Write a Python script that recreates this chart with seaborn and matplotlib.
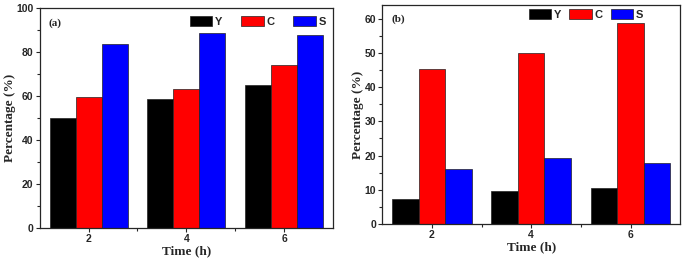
import pandas as pd
import matplotlib.pyplot as plt
import seaborn as sns
from matplotlib.ticker import AutoMinorLocator, MultipleLocator

# data
times = ["2", "4", "6"]
series = ["Y", "C", "S"]
a_Y = [50.0, 58.7, 65.0]
a_C = [59.7, 63.2, 74.2]
a_S = [83.8, 88.6, 87.6]
b_Y = [7.2, 9.7, 10.5]
b_C = [45.3, 50.0, 58.7]
b_S = [16.0, 19.4, 17.9]

colors = ["#000000", "#ff0000", "#0000ff"]


def long_df(y, c, s):
    rows = []
    for name, vals in zip(series, [y, c, s]):
        for t, v in zip(times, vals):
            rows.append({"time": t, "series": name, "value": v})
    return pd.DataFrame(rows)


sns.set_style("ticks")
plt.rcParams["font.family"] = ["Liberation Sans", "DejaVu Sans"]

fig = plt.figure(figsize=(6.85, 2.62), dpi=100)
ax1 = fig.add_axes([0.058, 0.130, 0.428, 0.839])
ax2 = fig.add_axes([0.558, 0.145, 0.435, 0.836])

serif = {"family": "Liberation Serif", "weight": "bold", "size": 9.5}

# (axes, data, ymax, major step, tag, legend anchor, column spacing)
panels = [
    (ax1, long_df(a_Y, a_C, a_S), 100, 20, "(a)", (1.0, 0.995), 1.7),
    (ax2, long_df(b_Y, b_C, b_S), 64, 10, "(b)", (0.9, 1.015), 0.75),
]

for ax, df, ymax, step, tag, anchor, colsp in panels:
    sns.barplot(data=df, x="time", y="value", hue="series", hue_order=series,
                palette=colors, saturation=1, width=0.8, edgecolor="#222222",
                linewidth=0.5, ax=ax)
    ax.set_xlim(-0.5, 2.5)
    ax.set_ylim(0, ymax)
    ax.yaxis.set_major_locator(MultipleLocator(step))
    ax.yaxis.set_minor_locator(AutoMinorLocator(2))
    ax.set_xticks([0.5, 1.5], minor=True)
    ax.tick_params(which="major", length=3, width=0.8, labelsize=7.5, pad=1.5)
    ax.tick_params(which="minor", length=2, width=0.8)
    for lab in ax.get_xticklabels() + ax.get_yticklabels():
        lab.set_fontweight("bold")
    for sp in ax.spines.values():
        sp.set_visible(True)
        sp.set_linewidth(0.9)
    ax.set_xlabel("Time (h)", fontdict=serif, labelpad=1)
    ax.set_ylabel("Percentage (%)", fontdict=serif, labelpad=0.5)
    ax.text(0.03, 0.955, tag, transform=ax.transAxes, ha="left", va="top",
            family="Liberation Serif", weight="bold", size=8)
    ax.legend(loc="upper right", ncol=3, frameon=False, bbox_to_anchor=anchor,
              handlelength=2.0, handleheight=1.0, handletextpad=0.25,
              columnspacing=colsp, borderaxespad=0.25,
              prop={"weight": "bold", "size": 8})

fig.savefig("out.png", dpi=100)
